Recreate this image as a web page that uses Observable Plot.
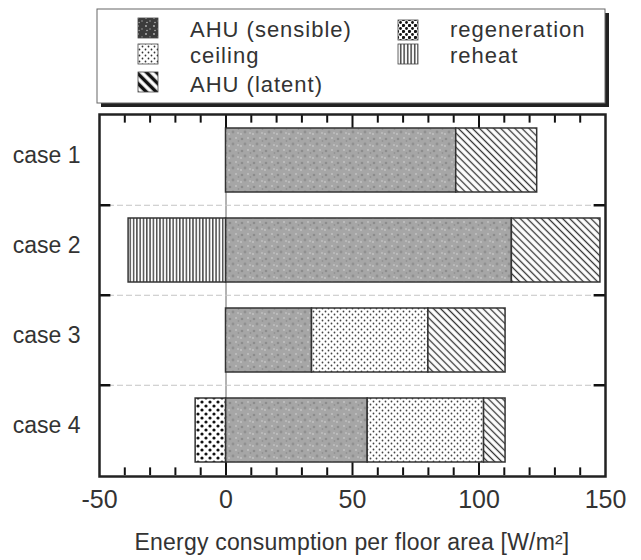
<!DOCTYPE html>
<html><head><meta charset="utf-8">
<script src="https://cdn.jsdelivr.net/npm/d3@7"></script>
<script src="https://cdn.jsdelivr.net/npm/@observablehq/plot@0.6"></script>
<style>
body{margin:0;background:#fff;}
#wrap{position:relative;width:641px;height:560px;font-family:"Liberation Sans",Arial,Helvetica,sans-serif;color:#333;overflow:hidden;}
#legend{position:absolute;left:0;top:0;}
#chart{position:absolute;left:0;top:112px;}
#xtitle{position:absolute;left:99px;width:506px;top:531px;text-align:center;font-size:23px;line-height:23px;color:#333;white-space:nowrap;letter-spacing:0.2px;}
</style></head><body>
<svg width="0" height="0" style="position:absolute">
<defs>
<pattern id="pSens" patternUnits="userSpaceOnUse" width="12" height="12">
<rect width="12" height="12" fill="#a6a6a6"/>
<circle cx="2" cy="3" r="1.3" fill="#8c8c8c"/>
<circle cx="8" cy="2" r="1" fill="#c2c2c2"/>
<circle cx="5" cy="8" r="1.4" fill="#909090"/>
<circle cx="10" cy="9" r="1.1" fill="#bdbdbd"/>
<circle cx="1" cy="10" r="0.9" fill="#c6c6c6"/>
<circle cx="10.5" cy="5" r="0.9" fill="#929292"/>
</pattern>
<pattern id="pCeil" patternUnits="userSpaceOnUse" width="6" height="6">
<rect width="6" height="6" fill="#fff"/>
<circle cx="1.5" cy="1.5" r="0.9" fill="#444"/>
<circle cx="4.5" cy="4.5" r="0.9" fill="#444"/>
</pattern>
<pattern id="pLat" patternUnits="userSpaceOnUse" width="5" height="10" patternTransform="rotate(-45)">
<rect width="5" height="10" fill="#fff"/>
<line x1="2.5" y1="0" x2="2.5" y2="10" stroke="#333" stroke-width="1.3"/>
</pattern>
<pattern id="pReheat" patternUnits="userSpaceOnUse" width="3.3" height="10">
<rect width="3.3" height="10" fill="#fff"/>
<line x1="1.6" y1="0" x2="1.6" y2="10" stroke="#222" stroke-width="1.2"/>
</pattern>
<pattern id="pRegen" patternUnits="userSpaceOnUse" width="8" height="8">
<rect width="8" height="8" fill="#fff"/>
<circle cx="2" cy="2" r="1.6" fill="#111"/>
<circle cx="6" cy="6" r="1.6" fill="#111"/>
</pattern>
<pattern id="lSens" patternUnits="userSpaceOnUse" width="8" height="8">
<rect width="8" height="8" fill="#3c3c3c"/>
<circle cx="2" cy="2" r="0.9" fill="#bbb"/>
<circle cx="6" cy="5" r="0.8" fill="#999"/>
<circle cx="3" cy="6.5" r="0.7" fill="#ccc"/>
</pattern>
<pattern id="lCeil" patternUnits="userSpaceOnUse" width="6" height="6">
<rect width="6" height="6" fill="#fff"/>
<circle cx="1.5" cy="1.5" r="0.9" fill="#333"/>
<circle cx="4.5" cy="4.5" r="0.9" fill="#333"/>
</pattern>
<pattern id="lLat" patternUnits="userSpaceOnUse" width="7" height="10" patternTransform="rotate(-45)">
<rect width="7" height="10" fill="#fff"/>
<line x1="3.5" y1="0" x2="3.5" y2="10" stroke="#111" stroke-width="3.5"/>
</pattern>
<pattern id="lRegen" patternUnits="userSpaceOnUse" width="6" height="6">
<rect width="6" height="6" fill="#fff"/>
<circle cx="1.5" cy="1.5" r="1.6" fill="#111"/>
<circle cx="4.5" cy="4.5" r="1.4" fill="#111"/>
</pattern>
<pattern id="lReheat" patternUnits="userSpaceOnUse" width="3.5" height="10">
<rect width="3.5" height="10" fill="#fff"/>
<line x1="1.7" y1="0" x2="1.7" y2="10" stroke="#111" stroke-width="1.2"/>
</pattern>
</defs></svg>
<div id="wrap">
<svg id="legend" width="641" height="112"></svg>
<div id="chart"></div>
<div id="xtitle">Energy consumption per floor area [W/m²]</div>
</div>
<script>
// ---- data ----
const cases = ["case 1", "case 2", "case 3", "case 4"];
const components = ["AHU (sensible)", "ceiling", "AHU (latent)", "regeneration", "reheat"];
const ahuSensible = [91, 113, 34, 56];
const ceiling = [0, 0, 46, 46];
const ahuLatent = [32, 35, 30.5, 8.5];
const regeneration = [0, 0, 0, -12];
const reheat = [0, -38.5, 0, 0];
const majorTicks = [-50, 0, 50, 100, 150];
const minorTicks = [-40, -30, -20, -10, 10, 20, 30, 40, 60, 70, 80, 90, 110, 120, 130, 140];

const barFills = ["url(#pSens)", "url(#pCeil)", "url(#pLat)", "url(#pRegen)", "url(#pReheat)"];
const legendFills = ["url(#lSens)", "url(#lCeil)", "url(#lLat)", "url(#lRegen)", "url(#lReheat)"];

const series = [ahuSensible, ceiling, ahuLatent, regeneration, reheat];
const rows = [];
cases.forEach((c, i) => {
  series.forEach((arr, k) => {
    if (arr[i] !== 0) rows.push({case: c, comp: k, value: arr[i]});
  });
});

// ---- legend ----
const lg = d3.select("#legend");
lg.append("rect").attr("x", 101).attr("y", 13).attr("width", 508).attr("height", 94).attr("fill", "#222");
lg.append("rect").attr("x", 97).attr("y", 9).attr("width", 508).attr("height", 94).attr("fill", "#fff").attr("stroke", "#666").attr("stroke-width", 1);
const legendPos = [
  {sx: 138, sy: 18, tx: 190, ty: 37},
  {sx: 138, sy: 44, tx: 190, ty: 63},
  {sx: 138, sy: 72, tx: 190, ty: 92},
  {sx: 398, sy: 20, tx: 450, ty: 37},
  {sx: 398, sy: 44, tx: 450, ty: 63}
];
components.forEach((name, k) => {
  const p = legendPos[k];
  lg.append("rect").attr("x", p.sx).attr("y", p.sy).attr("width", 20).attr("height", 20)
    .attr("fill", legendFills[k]).attr("stroke", "#444").attr("stroke-width", 0.8);
  lg.append("text").attr("x", p.tx).attr("y", p.ty).attr("font-size", 22).attr("letter-spacing", "1px").attr("fill", "#333")
    .attr("font-family", '"Liberation Sans",Arial,Helvetica,sans-serif').text(name);
});

// band geometry (step 90.5 px, bandwidth 64.255 px, outer padding 13.12 px)
const bw = 64.255, outer = 13.12;

// ---- chart ----
const chart = Plot.plot({
  width: 641,
  height: 448,
  marginTop: 2,
  marginBottom: 84,
  marginLeft: 99,
  marginRight: 36,
  style: {fontFamily: '"Liberation Sans",Arial,Helvetica,sans-serif', fontSize: "25px", color: "#333", background: "transparent"},
  x: {domain: [-50, 150]},
  y: {domain: cases, paddingInner: 0.29, paddingOuter: 0.145},
  color: {type: "identity"},
  marks: [
    Plot.ruleX([0], {stroke: "#666", strokeWidth: 1}),
    Plot.ruleY(cases.slice(1), {y: d => d, dy: -45.25, stroke: "#c4c4c4", strokeDasharray: "6,3", strokeWidth: 1}),
    Plot.ruleY(cases.slice(1), {y: d => d, dy: -45.25, x1: -50, x2: -45.5, stroke: "#111", strokeWidth: 2.5}),
    Plot.ruleY(cases.slice(1), {y: d => d, dy: -45.25, x1: 145.5, x2: 150, stroke: "#111", strokeWidth: 2.5}),
    Plot.barX(rows, Plot.stackX({x: "value", y: "case", fill: d => barFills[d.comp], stroke: "#333", strokeWidth: 1.5})),
    Plot.tickX(minorTicks, {x: d => d, y: () => cases[0], dy: -outer, insetBottom: bw - 8, stroke: "#111", strokeWidth: 2}),
    Plot.tickX(minorTicks, {x: d => d, y: () => cases[3], dy: outer, insetTop: bw - 8, stroke: "#111", strokeWidth: 2}),
    Plot.tickX(majorTicks.slice(1, -1), {x: d => d, y: () => cases[0], dy: -outer, insetBottom: bw - 13, stroke: "#111", strokeWidth: 2}),
    Plot.tickX(majorTicks.slice(1, -1), {x: d => d, y: () => cases[3], dy: outer, insetTop: bw - 13, stroke: "#111", strokeWidth: 2}),
    Plot.frame({stroke: "#222", strokeWidth: 2.5}),
    Plot.axisX({ticks: majorTicks, tickSize: 0, tickPadding: 14, fontSize: 25, tickFormat: d => String(d), label: null}),
    Plot.axisY({tickSize: 0, tickPadding: 19, fontSize: 23, dy: -5, label: null})
  ]
});
document.getElementById("chart").appendChild(chart);
</script>
</body></html>
